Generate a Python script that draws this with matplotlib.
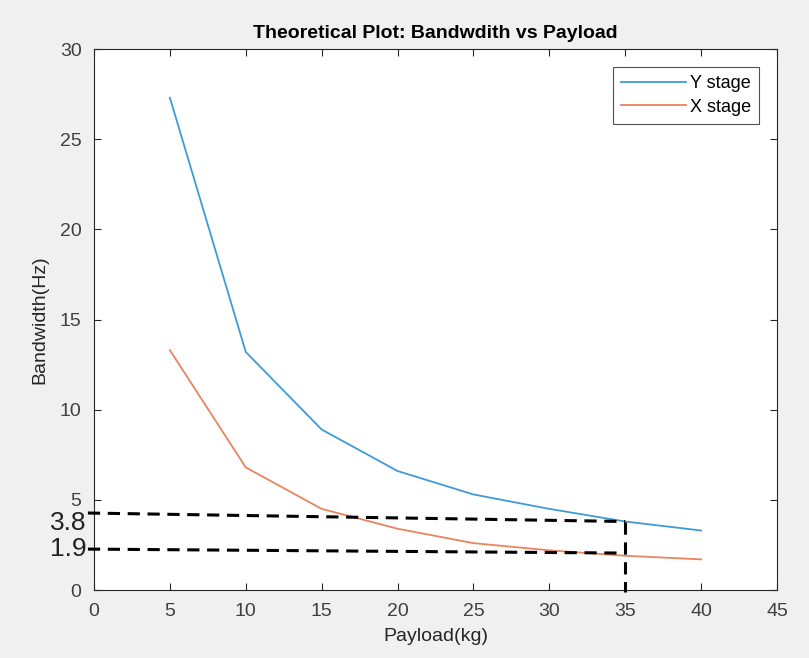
import numpy as np
import matplotlib.pyplot as plt

plt.rcParams.update({
    "font.family": ["Liberation Sans", "DejaVu Sans"],
    "font.size": 14,
    "xtick.direction": "in",
    "ytick.direction": "in",
})

payload = [5, 10, 15, 20, 25, 30, 35, 40]
y_stage = [27.3, 13.2, 8.9, 6.6, 5.3, 4.5, 3.8, 3.3]
x_stage = [13.3, 6.8, 4.5, 3.4, 2.6, 2.2, 1.9, 1.7]

x_ticks = [0, 5, 10, 15, 20, 25, 30, 35, 40, 45]
y_ticks = [0, 5, 10, 15, 20, 25, 30]

# hand drawn guide lines (x0, y0) -> (x1, y1)
guide_hi = ([-0.4, 35], [4.27, 3.8])
guide_lo = ([-0.4, 35], [2.27, 2.05])
guide_v = ([35, 35], [3.8, -0.1])
guide_labels = [("3.8", 3.7), ("1.9", 2.3)]

fig = plt.figure(figsize=(8.09, 6.58), dpi=100, facecolor="#f0f0f0")
ax = fig.add_axes([0.1162, 0.1033, 0.8442, 0.8222])
ax.set_facecolor("white")

ax.plot(payload, y_stage, color="#3d9bd8", linewidth=1.3, label="Y stage")
ax.plot(payload, x_stage, color="#e8845e", linewidth=1.3, label="X stage")

for gx, gy in (guide_hi, guide_lo, guide_v):
    ax.plot(gx, gy, color="black", linestyle=(0, (4, 2.5)), linewidth=2.2,
            clip_on=False, zorder=5)

for txt, yv in guide_labels:
    ax.text(-0.5, yv, txt, ha="right", va="center", fontsize=19,
            color="#222222")

ax.set_xlim(0, 45)
ax.set_ylim(0, 30)
ax.set_xticks(x_ticks)
ax.set_yticks(y_ticks)
ax.tick_params(top=True, right=True, colors="#262626", labelcolor="#404040",
               labelsize=14, length=5, width=0.8)
ax.tick_params(axis="x", pad=9)
ax.tick_params(axis="y", pad=9)
for s in ax.spines.values():
    s.set_color("#262626")
    s.set_linewidth(0.8)

ax.set_xlabel("Payload(kg)", fontsize=14, color="#262626", labelpad=6)
ax.set_ylabel("Bandwidth(Hz)", fontsize=14, color="#262626", labelpad=8)
ax.set_title("Theoretical Plot: Bandwdith vs Payload", fontsize=14,
             fontweight="bold", color="black", pad=8)

leg = ax.legend(loc="upper right", fontsize=13, frameon=True, fancybox=False,
                handlelength=3.6, handletextpad=0.2, borderpad=0.45,
                labelspacing=0.35, borderaxespad=1.0)
leg.get_frame().set_edgecolor("#262626")
leg.get_frame().set_linewidth(0.8)

fig.savefig("out.png", dpi=100, facecolor=fig.get_facecolor())
